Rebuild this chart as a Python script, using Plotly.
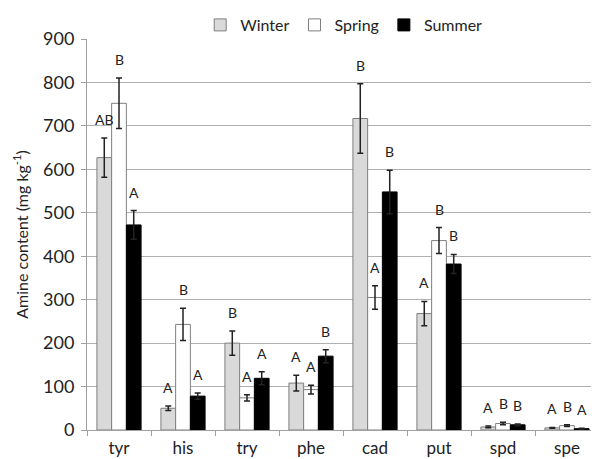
import plotly.graph_objects as go

categories = ["tyr", "his", "try", "phe", "cad", "put", "spd", "spe"]
series_names = ["Winter", "Spring", "Summer"]
winter = [627, 50, 200, 108, 717, 268, 7, 5]
spring = [752, 243, 74, 93, 305, 436, 15, 10]
summer = [472, 78, 119, 170, 548, 382, 12, 3]
winter_err = [45, 5, 28, 18, 80, 28, 2, 1]
spring_err = [58, 37, 7, 10, 27, 30, 3, 2]
summer_err = [33, 7, 15, 15, 50, 22, 2, 1]
winter_lbl = ["AB", "A", "B", "A", "B", "A", "A", "A"]
spring_lbl = ["B", "B", "A", "A", "A", "B", "B", "B"]
summer_lbl = ["A", "A", "A", "B", "B", "B", "B", "A"]
y_ticks = [0, 100, 200, 300, 400, 500, 600, 700, 800, 900]

values = [winter, spring, summer]
errs = [winter_err, spring_err, summer_err]
labels = [winter_lbl, spring_lbl, summer_lbl]
fills = ["#d9d9d9", "#ffffff", "#000000"]
lines = ["#7f7f7f", "#7f7f7f", "#000000"]

FONT = "Lato"
BARGAP = 0.31

fig = go.Figure()
for name, v, e, f, lc in zip(series_names, values, errs, fills, lines):
    fig.add_trace(go.Bar(
        name=name, x=categories, y=v,
        marker=dict(color=f, line=dict(color=lc, width=1)),
        error_y=dict(type="data", array=e, color="#222222", thickness=1.5, width=3),
    ))

n = len(series_names)
bw = (1 - BARGAP) / n
for si in range(n):
    for ci, cat in enumerate(categories):
        fig.add_annotation(
            x=ci + (si - 1) * bw, y=values[si][ci] + errs[si][ci],
            xref="x", yref="y", text=labels[si][ci], showarrow=False,
            yanchor="bottom", yshift=8,
            font=dict(size=14, color="#222222", family=FONT),
        )

# page body has an 8px default margin, so the figure is 8px smaller
fig.update_layout(
    width=591, height=451,
    barmode="group", bargap=BARGAP, bargroupgap=0,
    plot_bgcolor="white", paper_bgcolor="white",
    margin=dict(l=79, r=0, t=31, b=29, autoexpand=False),
    font=dict(family=FONT, color="#222222"),
    showlegend=True,
    legend=dict(orientation="h", x=0.568, xanchor="center", xref="container",
                y=1.0, yanchor="top", yref="container",
                font=dict(size=16), itemwidth=30, tracegroupgap=0,
                bgcolor="rgba(0,0,0,0)"),
    xaxis=dict(showline=True, linecolor="#a0a0a0", ticks="outside", tickson="boundaries",
               tickcolor="#a0a0a0", ticklen=5, tickfont=dict(size=17),
               ticklabelstandoff=3, range=[-0.5, 7.5]),
    yaxis=dict(range=[0, 900], tickvals=y_ticks, showgrid=True, gridcolor="#b0b0b0",
               showline=True, linecolor="#a0a0a0", ticks="outside", tickcolor="#a0a0a0",
               ticklen=5, tickfont=dict(size=18), zeroline=False, ticklabelstandoff=3,
               title=dict(text="Amine content (mg kg<sup>-1</sup>)", font=dict(size=16), standoff=10)),
)

fig.write_html("out.html")
